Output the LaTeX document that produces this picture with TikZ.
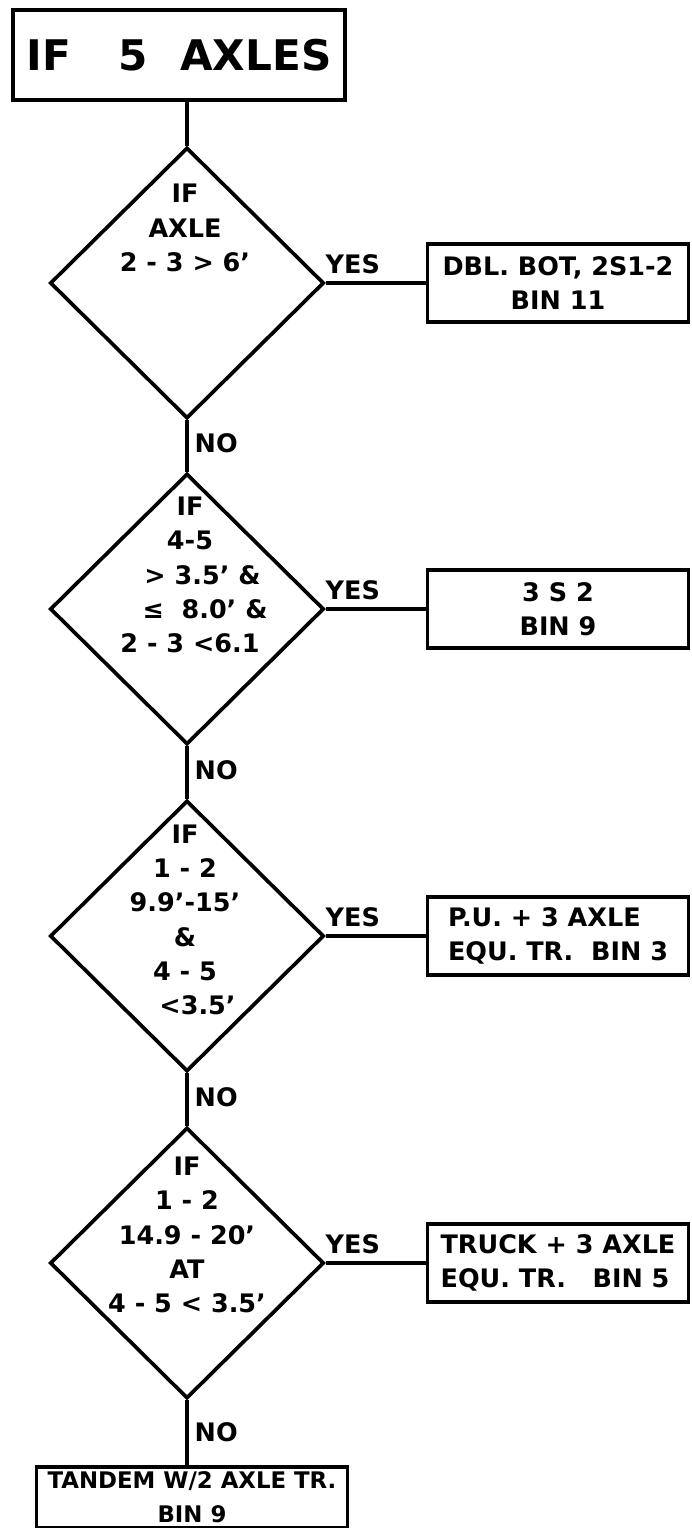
\documentclass[tikz,border=0pt]{standalone}
\usepackage{fontspec}
\setmainfont{DejaVu Sans}
\usetikzlibrary{shapes.geometric}

\begin{document}
\begin{tikzpicture}[x=0.02cm, y=-0.02cm, line width=2.1pt,
    font=\bfseries\fontsize{14.5}{19.5}\selectfont,
    ifbox/.style={diamond, draw, inner sep=0pt, minimum width=5.48cm, minimum height=5.42cm},
    cond/.style={align=center, inner sep=0pt},
    binbox/.style={rectangle, draw, align=left, minimum width=5.22cm, minimum height=1.56cm, inner sep=2pt}]
    \useasboundingbox (0,0) rectangle (692,1528);

    % Kopf
    \node[draw, minimum width=6.64cm, minimum height=1.8cm] (start) at (179,55)
        {\fontsize{24}{28}\selectfont IF\hspace{0.95cm}5\hspace{0.65cm}AXLES};

    % Rauten
    \node[ifbox] (d1) at (187,283) {};
    \node[ifbox] (d2) at (187,609) {};
    \node[ifbox] (d3) at (187,936) {};
    \node[ifbox] (d4) at (187,1263) {};

    % Bedingungen in den Rauten
    \node[cond] (c1) at (185,228) {IF\\AXLE\\2 - 3 > 6'};
    \node[cond] (c2) at (190,575) {IF\\4-5\\\hspace*{0.5cm}> 3.5' \&\\\hspace*{0.6cm}≤\ \ 8.0' \&\\2 - 3 <6.1};
    \node[cond] (c3) at (185,920) {IF\\1 - 2\\9.9'-15'\\\&\\4 - 5\\\hspace*{0.5cm}<3.5'};
    \node[cond] (c4) at (187,1235) {IF\\1 - 2\\14.9 - 20'\\AT\\4 - 5 < 3.5'};

    % Ergebnisse (YES)
    \node[binbox, align=center] (b1) at (558,283) {DBL. BOT, 2S1-2\\BIN 11};
    \node[binbox, align=center] (b2) at (558,609) {3 S 2\\BIN 9};
    \node[binbox] (b3) at (558,936) {P.U. + 3 AXLE\\EQU. TR.\ \ BIN 3};
    \node[binbox] (b4) at (558,1263) {TRUCK + 3 AXLE\\EQU. TR.\ \ \ BIN 5};

    % letzter Kasten (NO)
    \node[draw, align=center, anchor=north, minimum width=6.22cm, minimum height=1.22cm,
        inner sep=2pt, font=\bfseries\fontsize{13}{19}\selectfont] (b5) at (192,1465)
        {TANDEM W/2 AXLE TR.\\BIN 9};

    % senkrechte Linien
    \draw (start.south -| d1.north) -- (d1.north);
    \draw (d1.south) -- node[right, pos=.45] {NO} (d2.north);
    \draw (d2.south) -- node[right, pos=.45] {NO} (d3.north);
    \draw (d3.south) -- node[right, pos=.45] {NO} (d4.north);
    \draw (d4.south) -- node[right, pos=.5] {NO} (d4.south |- b5.north);

    % waagrechte Linien
    \draw (d1.east) -- node[above=1pt, pos=.27] {YES} (b1.west);
    \draw (d2.east) -- node[above=1pt, pos=.27] {YES} (b2.west);
    \draw (d3.east) -- node[above=1pt, pos=.27] {YES} (b3.west);
    \draw (d4.east) -- node[above=1pt, pos=.27] {YES} (b4.west);
\end{tikzpicture}
\end{document}
